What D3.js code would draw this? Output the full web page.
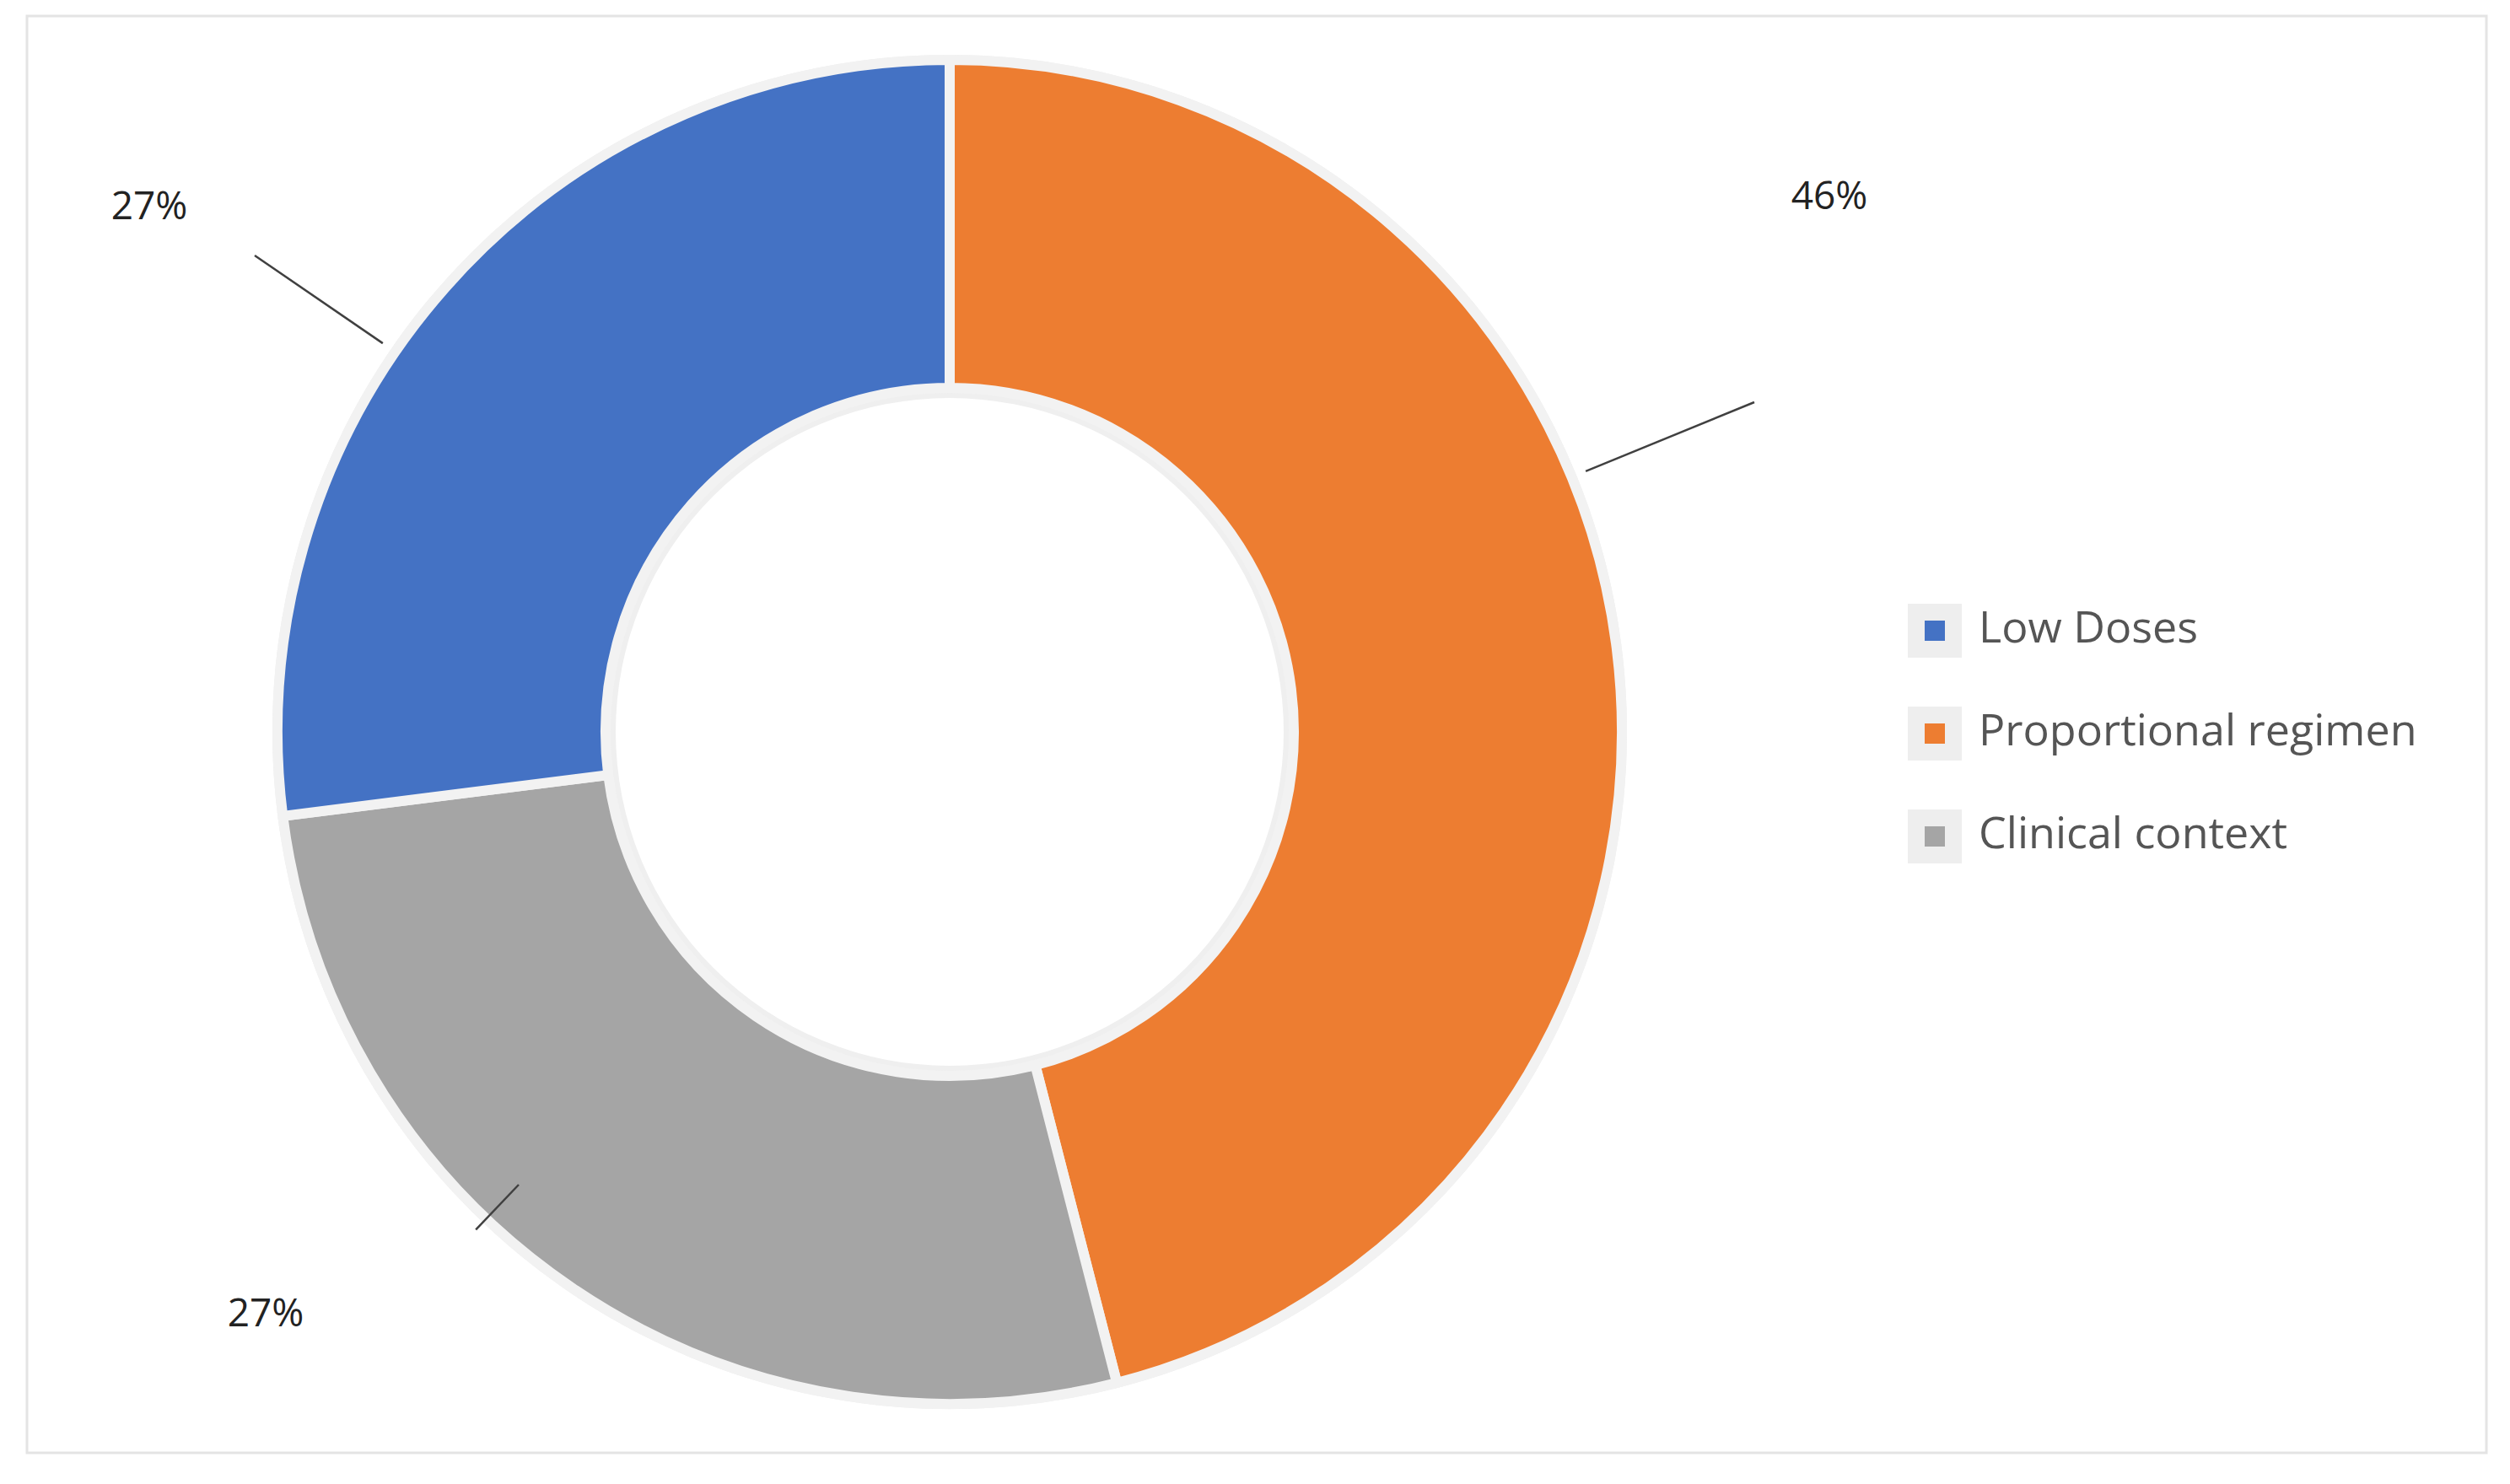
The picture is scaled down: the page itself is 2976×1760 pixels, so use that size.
<!DOCTYPE html>
<html>
<head>
<meta charset="utf-8">
<script src="https://cdn.jsdelivr.net/npm/d3@7"></script>
<style>
  body { margin: 0; background: #fff; }
  svg { display: block; font-family: "Open Sans", "Noto Sans", sans-serif; }
</style>
</head>
<body>
<svg id="chart" width="2976" height="1760"></svg>
<script>
// Chart data
var categories = ["Proportional regimen", "Clinical context", "Low Doses"];
var shares = [46, 27, 27];
var colors = ["#ED7D31", "#A5A5A5", "#4472C4"];
var legendOrder = ["Low Doses", "Proportional regimen", "Clinical context"];

var svg = d3.select("#chart");

// outer frame
svg.append("rect")
    .attr("x", 32).attr("y", 19).attr("width", 2916).attr("height", 1704)
    .attr("fill", "#fff").attr("stroke", "#e4e4e4").attr("stroke-width", 3);

var cx = 1126, cy = 868, outerR = 797, innerR = 408;

var pie = d3.pie().sort(null).value(function(d) { return d; });
var arc = d3.arc().innerRadius(innerR).outerRadius(outerR);

var g = svg.append("g").attr("transform", "translate(" + cx + "," + cy + ")");

// soft ring behind the slices
g.append("circle").attr("r", outerR + 6).attr("fill", "#efefef");
g.append("circle").attr("r", innerR - 6).attr("fill", "#efefef");
g.append("circle").attr("r", innerR - 12).attr("fill", "#fff");

g.selectAll("path.slice")
    .data(pie(shares))
    .enter().append("path")
    .attr("class", "slice")
    .attr("d", arc)
    .attr("fill", function(d, i) { return colors[i]; })
    .attr("stroke", "#f2f2f2")
    .attr("stroke-width", 12);

// percentage labels with leader lines (label text position relative to centre)
var labelSpots = [[1043, -632], [-811, 693], [-949, -620]];
var lineEnds = [[954, -391], [-511, 537], [-824, -565]];

labelSpots.forEach(function(p, i) {
    var e = lineEnds[i];
    var len = Math.sqrt(e[0] * e[0] + e[1] * e[1]);
    var sx = e[0] / len * (outerR + 18), sy = e[1] / len * (outerR + 18);
    g.append("line")
        .attr("x1", sx).attr("y1", sy).attr("x2", e[0]).attr("y2", e[1])
        .attr("stroke", "#404040").attr("stroke-width", 2.5);
    g.append("text")
        .attr("x", p[0]).attr("y", p[1])
        .attr("text-anchor", "middle")
        .attr("dominant-baseline", "middle")
        .attr("font-size", 46)
        .attr("fill", "#222")
        .text(shares[i] + "%");
});

// legend
var legend = svg.append("g").attr("transform", "translate(2262,748)");
legendOrder.forEach(function(name, i) {
    var idx = categories.indexOf(name);
    var row = legend.append("g").attr("transform", "translate(0," + (i * 122) + ")");
    row.append("rect").attr("x", 0).attr("y", -32).attr("width", 64).attr("height", 64)
        .attr("fill", "#eeeeee");
    row.append("rect").attr("x", 20).attr("y", -12).attr("width", 24).attr("height", 24)
        .attr("fill", colors[idx]);
    row.append("text").attr("x", 84).attr("y", 0)
        .attr("dominant-baseline", "middle")
        .attr("font-size", 52).attr("fill", "#555")
        .text(name);
});
</script>
</body>
</html>
